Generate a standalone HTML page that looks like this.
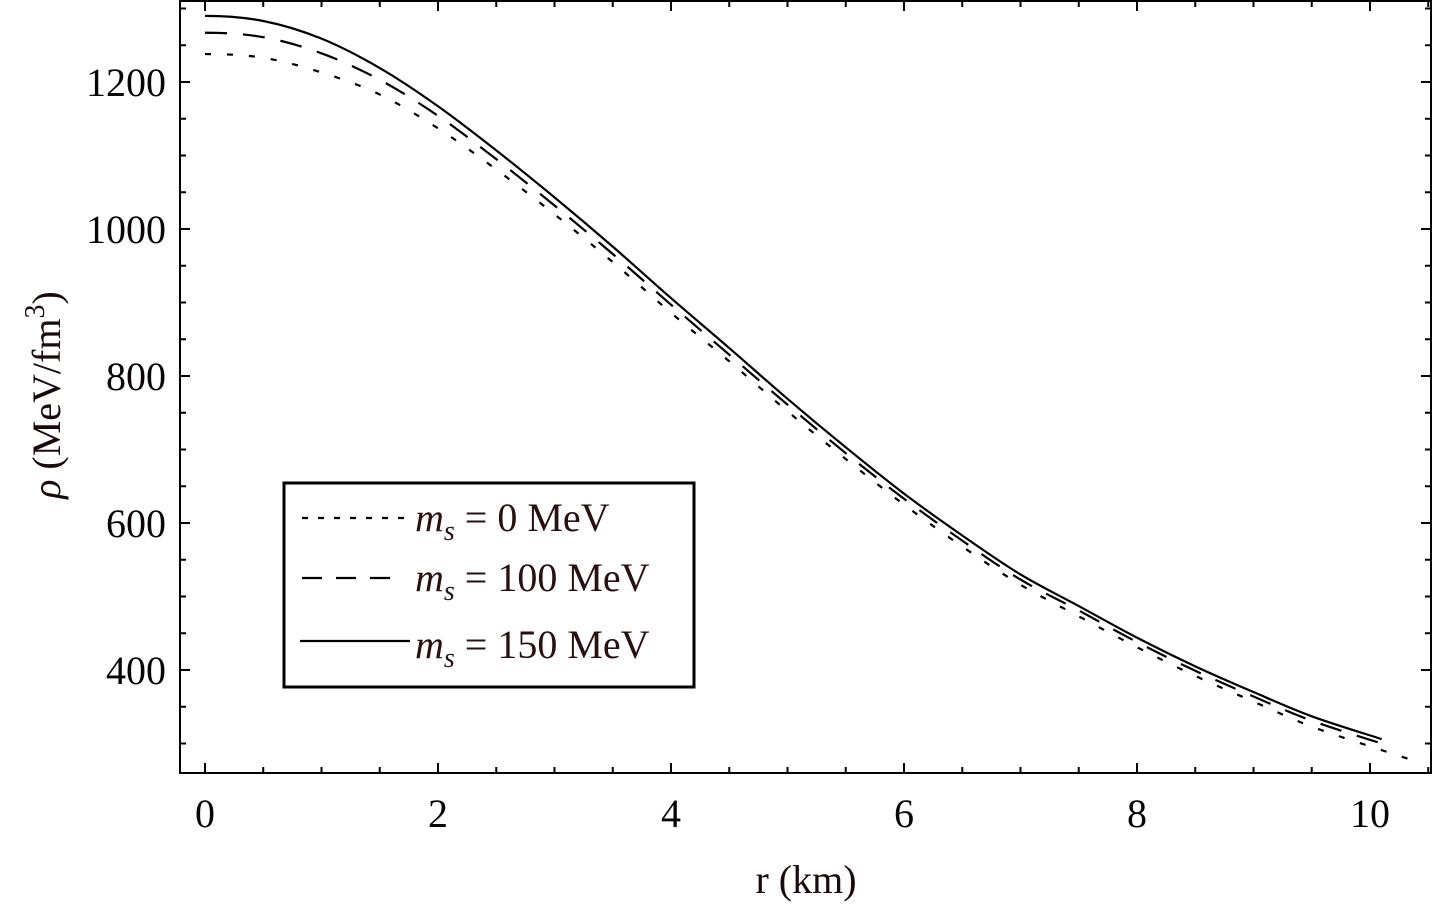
<!DOCTYPE html>
<html><head><meta charset="utf-8"><style>
html,body{margin:0;padding:0;background:#fff;}
svg{display:block;font-family:"Liberation Serif",serif;}
</style></head><body>
<svg id="chart" width="1432" height="905" viewBox="0 0 1432 905" xmlns="http://www.w3.org/2000/svg">
<g id="ticks"></g>
<g id="series"></g>
<rect x="180" y="1" width="1251" height="772" fill="none" stroke="#000" stroke-width="2"/>
<text x="806" y="893" font-size="40" text-anchor="middle" fill="#1a0a0a">r (km)</text>
<text transform="translate(60,395) rotate(-90)" font-size="40" text-anchor="middle" fill="#1a0a0a"><tspan font-style="italic">ρ</tspan> (MeV/fm<tspan dy="-16" font-size="28">3</tspan><tspan dy="16">)</tspan></text>
<g>
<rect x="284" y="483" width="410" height="204" fill="#fff" stroke="#000" stroke-width="3"/>
<line x1="302" y1="518" x2="407" y2="518" stroke="#000" stroke-width="2.2" stroke-dasharray="6,10"/>
<line x1="302" y1="578" x2="400" y2="578" stroke="#000" stroke-width="2.2" stroke-dasharray="20,14"/>
<line x1="300" y1="641" x2="410" y2="641" stroke="#000" stroke-width="2.2"/>
<text x="415" y="531" font-size="40" fill="#2a1010"><tspan font-style="italic">m</tspan><tspan font-style="italic" font-size="28" dy="9">s</tspan><tspan dy="-9"> = 0 MeV</tspan></text>
<text x="415" y="591" font-size="40" fill="#2a1010"><tspan font-style="italic">m</tspan><tspan font-style="italic" font-size="28" dy="9">s</tspan><tspan dy="-9"> = 100 MeV</tspan></text>
<text x="415" y="658" font-size="40" fill="#2a1010"><tspan font-style="italic">m</tspan><tspan font-style="italic" font-size="28" dy="9">s</tspan><tspan dy="-9"> = 150 MeV</tspan></text>
</g>
</svg>
<script>
const rVals = [0,0.5,1,1.5,2,2.5,3,3.5,4,4.5,5,5.5,6,6.5,7,7.5,8,8.5,9,9.5,10.1];
const rho150 = [1290,1283,1259,1219,1167,1107,1043,976,906,838,769,703,640,583,530,487,444,405,370,337,306];
const rho100 = [1267,1261,1239,1203,1154,1095,1032,966,897,829,761,695,633,576,523,481,438,399,364,331,300];
const rho0 = [1238,1233,1213,1183,1137,1081,1020,955,886,820,752,687,625,568,516,473,431,392,357,323,291];
const rTail0 = [10.35];
const rhoTail0 = [278];
const xTicks = [0,2,4,6,8,10];
const yTicks = [400,600,800,1000,1200];

const X = r => 205 + r*116.5;
const Y = v => 82 + (1200 - v)*0.735;
const NS="http://www.w3.org/2000/svg";
const ticks=document.getElementById('ticks');
function ln(x1,y1,x2,y2,name){const l=document.createElementNS(NS,'line');l.setAttribute('x1',x1);l.setAttribute('y1',y1);l.setAttribute('x2',x2);l.setAttribute('y2',y2);l.setAttribute('stroke','#000');l.setAttribute('stroke-width','2');


ticks.appendChild(l);}
function tx(x,y,s,anchor,name){const t=document.createElementNS(NS,'text');t.setAttribute('x',x);t.setAttribute('y',y);t.setAttribute('font-size','40');t.setAttribute('fill','#0a0505');t.setAttribute('text-anchor',anchor);t.textContent=s;


ticks.appendChild(t);}
for(let r=0;r<=10.5;r+=0.5){const major=Math.abs(r-Math.round(r/2)*2)<1e-9;const L=major?10:6;const x=X(r);
ln(x,773,x,773-L,'x-tick');ln(x,1,x,1+L,'x-tick-top');}
xTicks.forEach(r=>tx(X(r),827,String(r),'middle','x-tick-label'));
for(let v=300;v<=1300;v+=50){const major=v%200===0;const L=major?10:6;const y=Y(v);if(y<1||y>773)continue;
ln(180,y,180+L,y,'y-tick');ln(1431,y,1431-L,y,'y-tick-right');}
yTicks.forEach(v=>tx(166,Y(v)+14,String(v),'end','y-tick-label'));

function smooth(xs,ys){const p=xs.map((r,i)=>[X(r),Y(ys[i])]);let d=`M${p[0][0]},${p[0][1]}`;
for(let i=0;i<p.length-1;i++){const p0=p[Math.max(0,i-1)],p1=p[i],p2=p[i+1],p3=p[Math.min(p.length-1,i+2)];
let c1=[p1[0]+(p2[0]-p0[0])/6,p1[1]+(p2[1]-p0[1])/6],c2=[p2[0]-(p3[0]-p1[0])/6,p2[1]-(p3[1]-p1[1])/6];
if(i===0)c1=[p1[0]+(p2[0]-p1[0])/3,p1[1]];
d+=` C${c1[0]},${c1[1]} ${c2[0]},${c2[1]} ${p2[0]},${p2[1]}`;}return d;}
const ser=document.getElementById('series');
function path(d,dash,name){const e=document.createElementNS(NS,'path');e.setAttribute('d',d);e.setAttribute('fill','none');e.setAttribute('stroke','#000');e.setAttribute('stroke-width','2.2');if(dash)e.setAttribute('stroke-dasharray',dash);


ser.appendChild(e);}
path(smooth(rVals.concat(rTail0),rho0.concat(rhoTail0)),'6,16','series-ms-0');
path(smooth(rVals,rho100),'22,16','series-ms-100');
path(smooth(rVals,rho150),null,'series-ms-150');
</script>
</body></html>
